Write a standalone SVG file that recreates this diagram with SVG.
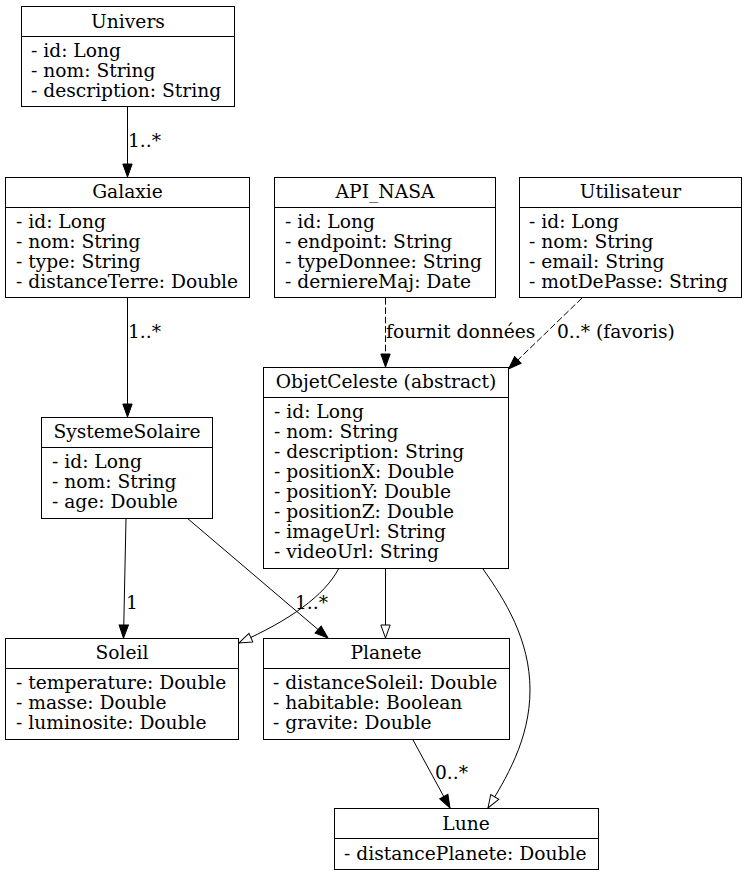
<svg xmlns="http://www.w3.org/2000/svg" width="747" height="876" viewBox="0 0 747 876">
<style>
.box{fill:#fff;stroke:#000;stroke-width:1}
.div{stroke:#000;stroke-width:1}
text{font-family:"DejaVu Serif","Liberation Serif",serif;font-size:18.67px;fill:#000}
.t{text-anchor:middle}
.e{fill:none;stroke:#000;stroke-width:1}
.d{stroke-dasharray:6.67,2.67}
</style>
<defs>
<marker id="af" markerUnits="userSpaceOnUse" markerWidth="14" markerHeight="10" refX="13" refY="4.67" orient="auto" overflow="visible"><path d="M0,0 L13,4.67 L0,9.33 z" fill="#000" stroke="#000"/></marker>
<marker id="ah" markerUnits="userSpaceOnUse" markerWidth="14" markerHeight="10" refX="13" refY="4.67" orient="auto" overflow="visible"><path d="M0,0 L13,4.67 L0,9.33 z" fill="#fff" stroke="#000"/></marker>
</defs>
<rect width="747" height="876" fill="#fff"/>
<g id="connectors">
<path class="e" d="M127.5,106 L127.5,177" marker-end="url(#af)"/>
<text x="128" y="147">1..*</text>
<path class="e" d="M127.5,297 L127.5,417" marker-end="url(#af)"/>
<text x="128" y="338">1..*</text>
<path class="e d" d="M385.5,298 L385.5,367" marker-end="url(#af)"/>
<text x="386" y="338">fournit données</text>
<path class="e d" d="M582,298 L508.5,369" marker-end="url(#af)"/>
<text x="557" y="338">0..* (favoris)</text>
<path class="e" d="M126,518 L123.5,638" marker-end="url(#af)"/>
<text x="126" y="609">1</text>
<path class="e" d="M187,518 L328,638" marker-end="url(#af)"/>
<text x="295" y="609">1..*</text>
<path class="e" d="M338.5,569 C324,596 290,620 239,643" marker-end="url(#ah)"/>
<path class="e" d="M385.5,569 L385.5,638" marker-end="url(#ah)"/>
<path class="e" d="M483,569 C505,600 530,640 530,690 C530,740 505,780 488,808" marker-end="url(#ah)"/>
<path class="e" d="M412.5,739 L450,808" marker-end="url(#af)"/>
<text x="435" y="779">0..*</text>
</g>
<g id="Univers">
<rect class="box" x="21.5" y="6.5" width="213" height="100"/>
<line class="div" x1="21.5" y1="36.5" x2="234.5" y2="36.5"/>
<text class="t" x="128" y="27.5">Univers</text>
<text x="31" y="57">- id: Long</text>
<text x="31" y="77">- nom: String</text>
<text x="31" y="97">- description: String</text>
</g>
<g id="Galaxie">
<rect class="box" x="5.5" y="177.5" width="244" height="120"/>
<line class="div" x1="5.5" y1="207.5" x2="249.5" y2="207.5"/>
<text class="t" x="127.5" y="198">Galaxie</text>
<text x="16" y="228">- id: Long</text>
<text x="16" y="248">- nom: String</text>
<text x="16" y="268">- type: String</text>
<text x="16" y="288">- distanceTerre: Double</text>
</g>
<g id="API_NASA">
<rect class="box" x="274.5" y="177.5" width="221" height="120"/>
<line class="div" x1="274.5" y1="207.5" x2="495.5" y2="207.5"/>
<text class="t" x="385" y="198">API_NASA</text>
<text x="285" y="228">- id: Long</text>
<text x="285" y="248">- endpoint: String</text>
<text x="285" y="268">- typeDonnee: String</text>
<text x="285" y="288">- derniereMaj: Date</text>
</g>
<g id="Utilisateur">
<rect class="box" x="519.5" y="177.5" width="222" height="120"/>
<line class="div" x1="519.5" y1="207.5" x2="741.5" y2="207.5"/>
<text class="t" x="630.5" y="198">Utilisateur</text>
<text x="529" y="228">- id: Long</text>
<text x="529" y="248">- nom: String</text>
<text x="529" y="268">- email: String</text>
<text x="529" y="288">- motDePasse: String</text>
</g>
<g id="ObjetCeleste">
<rect class="box" x="263.5" y="367.5" width="245" height="201"/>
<line class="div" x1="263.5" y1="397.5" x2="508.5" y2="397.5"/>
<text class="t" x="386" y="388">ObjetCeleste (abstract)</text>
<text x="274" y="418">- id: Long</text>
<text x="274" y="438">- nom: String</text>
<text x="274" y="458">- description: String</text>
<text x="274" y="478">- positionX: Double</text>
<text x="274" y="498">- positionY: Double</text>
<text x="274" y="518">- positionZ: Double</text>
<text x="274" y="538">- imageUrl: String</text>
<text x="274" y="558">- videoUrl: String</text>
</g>
<g id="SystemeSolaire">
<rect class="box" x="41.5" y="417.5" width="171" height="101"/>
<line class="div" x1="41.5" y1="447.5" x2="212.5" y2="447.5"/>
<text class="t" x="127" y="438">SystemeSolaire</text>
<text x="52" y="468">- id: Long</text>
<text x="52" y="488">- nom: String</text>
<text x="52" y="508">- age: Double</text>
</g>
<g id="Soleil">
<rect class="box" x="5.5" y="638.5" width="233" height="101"/>
<line class="div" x1="5.5" y1="668.5" x2="238.5" y2="668.5"/>
<text class="t" x="122" y="659">Soleil</text>
<text x="16" y="689">- temperature: Double</text>
<text x="16" y="709">- masse: Double</text>
<text x="16" y="729">- luminosite: Double</text>
</g>
<g id="Planete">
<rect class="box" x="263.5" y="638.5" width="246" height="101"/>
<line class="div" x1="263.5" y1="668.5" x2="509.5" y2="668.5"/>
<text class="t" x="386" y="659">Planete</text>
<text x="273" y="689">- distanceSoleil: Double</text>
<text x="273" y="709">- habitable: Boolean</text>
<text x="273" y="729">- gravite: Double</text>
</g>
<g id="Lune">
<rect class="box" x="334.5" y="808.5" width="264" height="61"/>
<line class="div" x1="334.5" y1="838.5" x2="598.5" y2="838.5"/>
<text class="t" x="466" y="829.5">Lune</text>
<text x="344" y="859.5">- distancePlanete: Double</text>
</g>
</svg>
